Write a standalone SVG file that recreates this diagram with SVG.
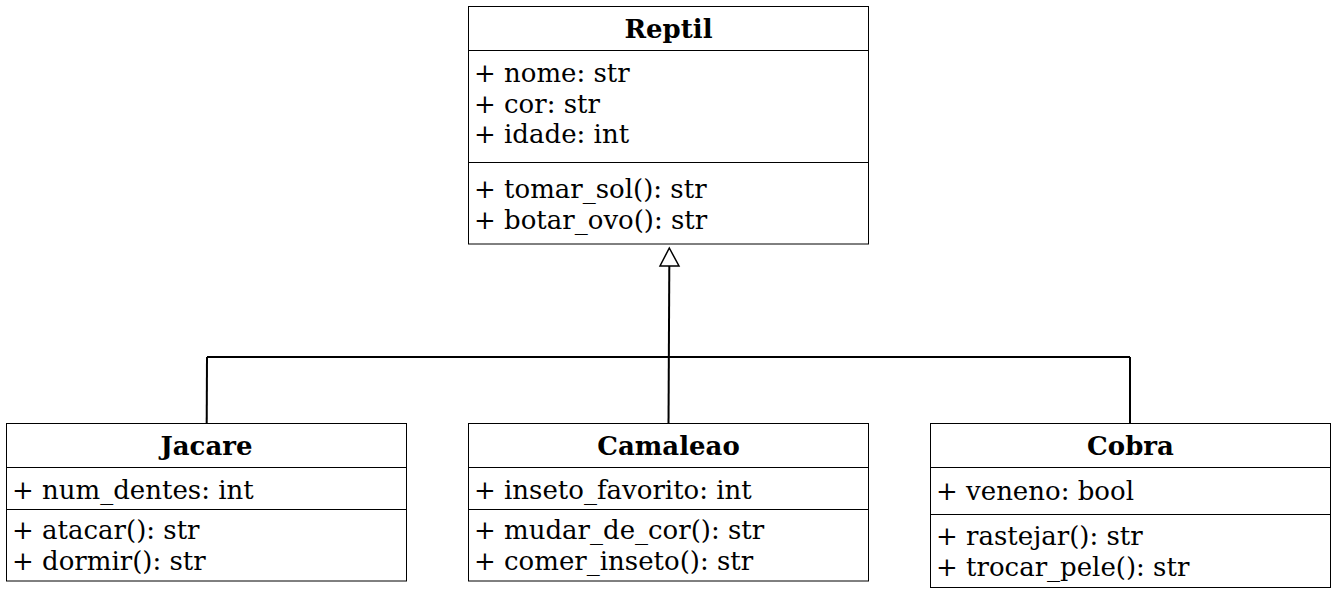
<svg xmlns="http://www.w3.org/2000/svg" width="1337" height="595" viewBox="0 0 1337 595">
<style>
.box{fill:#fff;stroke:#000;stroke-width:1}
.div{stroke:#000;stroke-width:1}
.t{font-family:"DejaVu Serif",serif;font-size:26px;fill:#000}
.h{font-family:"DejaVu Serif",serif;font-size:26px;font-weight:bold;fill:#000;text-anchor:middle}
.c{fill:none;stroke:#000;stroke-width:2}
</style>
<rect width="1337" height="595" fill="#fff"/>
<g id="connectors">
<polyline class="c" points="668.5,424 669.3,266"/>
<polygon points="669.3,248 660,266 679,266" fill="#fff" stroke="#000" stroke-width="1.5"/>
<line class="c" x1="207" y1="357" x2="1130" y2="357"/>
<line class="c" x1="207" y1="357" x2="206.7" y2="424"/>
<line class="c" x1="1130" y1="357" x2="1130" y2="424"/>
</g>
<g id="Reptil">
<rect class="box" x="468.5" y="6.5" width="400" height="237.5"/>
<line class="div" x1="468.5" y1="50.5" x2="868.5" y2="50.5"/>
<line class="div" x1="468.5" y1="162.5" x2="868.5" y2="162.5"/>
<text class="h" x="668.5" y="38">Reptil</text>
<text class="t" x="474" y="82">+ nome: str</text>
<text class="t" x="474" y="112.5">+ cor: str</text>
<text class="t" x="474" y="143">+ idade: int</text>
<text class="t" x="474" y="198">+ tomar_sol(): str</text>
<text class="t" x="474" y="228.5">+ botar_ovo(): str</text>
</g>
<g id="Jacare">
<rect class="box" x="6.5" y="423.5" width="400" height="157.5"/>
<line class="div" x1="6.5" y1="467.5" x2="406.5" y2="467.5"/>
<line class="div" x1="6.5" y1="509.5" x2="406.5" y2="509.5"/>
<text class="h" x="206.5" y="455">Jacare</text>
<text class="t" x="12" y="499">+ num_dentes: int</text>
<text class="t" x="12" y="539">+ atacar(): str</text>
<text class="t" x="12" y="569.5">+ dormir(): str</text>
</g>
<g id="Camaleao">
<rect class="box" x="468.5" y="423.5" width="400" height="157.5"/>
<line class="div" x1="468.5" y1="467.5" x2="868.5" y2="467.5"/>
<line class="div" x1="468.5" y1="509.5" x2="868.5" y2="509.5"/>
<text class="h" x="668.5" y="455">Camaleao</text>
<text class="t" x="474" y="499">+ inseto_favorito: int</text>
<text class="t" x="474" y="539">+ mudar_de_cor(): str</text>
<text class="t" x="474" y="569.5">+ comer_inseto(): str</text>
</g>
<g id="Cobra">
<rect class="box" x="930.5" y="423.5" width="400" height="164"/>
<line class="div" x1="930.5" y1="467.5" x2="1330.5" y2="467.5"/>
<line class="div" x1="930.5" y1="514.5" x2="1330.5" y2="514.5" stroke="#777"/>
<text class="h" x="1130.5" y="455">Cobra</text>
<text class="t" x="936" y="500">+ veneno: bool</text>
<text class="t" x="936" y="545">+ rastejar(): str</text>
<text class="t" x="936" y="576">+ trocar_pele(): str</text>
</g>
</svg>
